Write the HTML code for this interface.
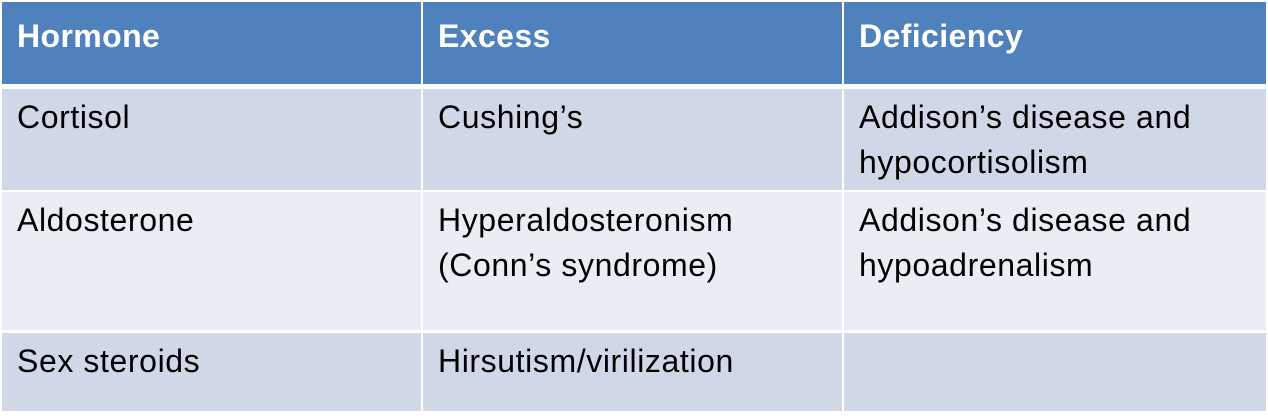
<!DOCTYPE html>
<html><head><meta charset="utf-8"><style>
body{margin:0;width:1268px;height:416px;background:#fff;position:relative;overflow:hidden;font-family:"Liberation Sans",sans-serif;}
.c{position:absolute;box-sizing:border-box;padding:6px 0 0 15px;font-size:32px;line-height:45px;color:#000;letter-spacing:0.6px;}
.h{background:#4F81BD;color:#fff;font-weight:bold;padding-top:12px;letter-spacing:0.4px;}
.a{background:#D0D8E8;}
.b{background:#E9EDF4;}
</style></head><body>
<div class="c h" style="left:2px;top:2px;width:419px;height:82px">Hormone</div>
<div class="c h" style="left:423px;top:2px;width:419px;height:82px">Excess</div>
<div class="c h" style="left:844px;top:2px;width:422px;height:82px">Deficiency</div>

<div class="c a" style="left:2px;top:89px;width:419px;height:101px">Cortisol</div>
<div class="c a" style="left:423px;top:89px;width:419px;height:101px">Cushing’s</div>
<div class="c a" style="left:844px;top:89px;width:422px;height:101px">Addison’s disease and<br>hypocortisolism</div>

<div class="c b" style="left:2px;top:192px;width:419px;height:138px">Aldosterone</div>
<div class="c b" style="left:423px;top:192px;width:419px;height:138px">Hyperaldosteronism<br>(Conn’s syndrome)</div>
<div class="c b" style="left:844px;top:192px;width:422px;height:138px">Addison’s disease and<br>hypoadrenalism</div>

<div class="c a" style="left:2px;top:333px;width:419px;height:78px">Sex steroids</div>
<div class="c a" style="left:423px;top:333px;width:419px;height:78px">Hirsutism/virilization</div>
<div class="c a" style="left:844px;top:333px;width:422px;height:78px"></div>
</body></html>
